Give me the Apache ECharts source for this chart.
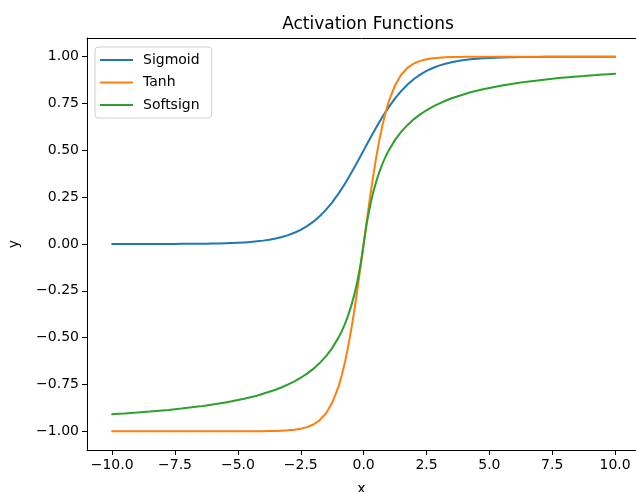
<!DOCTYPE html>
<html>
<head>
<meta charset="utf-8">
<script src="https://cdn.jsdelivr.net/npm/echarts@6/dist/echarts.min.js"></script>
<style>html,body{margin:0;padding:0;background:#fff;}#c{width:636px;height:492px;}</style>
</head>
<body>
<div id="c"></div>
<script>
const xValues = [-10,-9.75,-9.5,-9.25,-9,-8.75,-8.5,-8.25,-8,-7.75,-7.5,-7.25,-7,-6.75,-6.5,-6.25,-6,-5.75,-5.5,-5.25,-5,-4.75,-4.5,-4.25,-4,-3.75,-3.5,-3.25,-3,-2.75,-2.5,-2.25,-2,-1.75,-1.5,-1.25,
  -1,-0.875,-0.75,-0.625,-0.5,-0.375,-0.25,-0.125,0,0.125,0.25,0.375,0.5,0.625,0.75,0.875,1,
  1.25,1.5,1.75,2,2.25,2.5,2.75,3,3.25,3.5,3.75,4,4.25,4.5,4.75,5,5.25,5.5,5.75,6,6.25,6.5,6.75,7,7.25,7.5,7.75,8,8.25,8.5,8.75,9,9.25,9.5,9.75,10];
const sigmoid = [0.0000,0.0001,0.0001,0.0001,0.0001,0.0002,0.0002,0.0003,0.0003,0.0004,0.0006,0.0007,0.0009,0.0012,0.0015,0.0019,0.0025,0.0032,0.0041,0.0052,0.0067,0.0086,0.0110,0.0141,0.0180,0.0230,0.0293,0.0373,0.0474,0.0601,0.0759,0.0953,0.1192,0.1480,0.1824,0.2227,
  0.2689,0.2942,0.3208,0.3487,0.3775,0.4073,0.4378,0.4688,0.5000,0.5312,0.5622,0.5927,0.6225,0.6513,0.6792,0.7058,0.7311,
  0.7773,0.8176,0.8520,0.8808,0.9047,0.9241,0.9399,0.9526,0.9627,0.9707,0.9770,0.9820,0.9859,0.9890,0.9914,0.9933,0.9948,0.9959,0.9968,0.9975,0.9981,0.9985,0.9988,0.9991,0.9993,0.9994,0.9996,0.9997,0.9997,0.9998,0.9998,0.9999,0.9999,0.9999,0.9999,1.0000];
const tanh = [-1.0000,-1.0000,-1.0000,-1.0000,-1.0000,-1.0000,-1.0000,-1.0000,-1.0000,-1.0000,-1.0000,-1.0000,-1.0000,-1.0000,-1.0000,-1.0000,-1.0000,-1.0000,-1.0000,-0.9999,-0.9999,-0.9999,-0.9998,-0.9996,-0.9993,-0.9989,-0.9982,-0.9970,-0.9951,-0.9919,-0.9866,-0.9780,-0.9640,-0.9414,-0.9051,-0.8483,
  -0.7616,-0.7039,-0.6351,-0.5546,-0.4621,-0.3584,-0.2449,-0.1244,0.0000,0.1244,0.2449,0.3584,0.4621,0.5546,0.6351,0.7039,0.7616,
  0.8483,0.9051,0.9414,0.9640,0.9780,0.9866,0.9919,0.9951,0.9970,0.9982,0.9989,0.9993,0.9996,0.9998,0.9999,0.9999,0.9999,1.0000,1.0000,1.0000,1.0000,1.0000,1.0000,1.0000,1.0000,1.0000,1.0000,1.0000,1.0000,1.0000,1.0000,1.0000,1.0000,1.0000,1.0000,1.0000];
const softsign = [-0.909,-0.907,-0.905,-0.902,-0.900,-0.897,-0.895,-0.892,-0.889,-0.886,-0.882,-0.879,-0.875,-0.871,-0.867,-0.862,-0.857,-0.852,-0.846,-0.840,-0.833,-0.826,-0.818,-0.810,-0.800,-0.789,-0.778,-0.765,-0.750,-0.733,-0.714,-0.692,-0.667,-0.636,-0.600,-0.556,
  -0.500,-0.467,-0.429,-0.385,-0.333,-0.273,-0.200,-0.111,0.000,0.111,0.200,0.273,0.333,0.385,0.429,0.467,0.500,
  0.556,0.600,0.636,0.667,0.692,0.714,0.733,0.750,0.765,0.778,0.789,0.800,0.810,0.818,0.826,0.833,0.840,0.846,0.852,0.857,0.862,0.867,0.871,0.875,0.879,0.882,0.886,0.889,0.892,0.895,0.897,0.900,0.902,0.905,0.907,0.909];
const seriesNames = ['Sigmoid','Tanh','Softsign'];
const xTicks = [-10,-7.5,-5,-2.5,0,2.5,5,7.5,10];
const yTicks = [-1,-0.75,-0.5,-0.25,0,0.25,0.5,0.75,1];

const colors = ['#1f77b4','#ff7f0e','#2ca02c'];
const font = 'DejaVu Sans';
const fmt = (v, d) => { const s = Math.abs(v).toFixed(d); return v < 0 ? '\u2212' + s : s; };
const pairs = arr => xValues.map((x, i) => [x, arr[i]]);
const allData = [sigmoid, tanh, softsign];

const chart = echarts.init(document.getElementById('c'), null, {renderer: 'canvas'});
chart.setOption({
  animation: false,
  backgroundColor: '#fff',
  color: colors,
  title: {
    text: 'Activation Functions', left: 363, top: 11, textAlign: 'center',
    textStyle: {fontFamily: font, fontSize: 17, fontWeight: 'normal', color: '#000'}
  },
  grid: {left: 87, top: 38, right: 0, bottom: 42, show: false, outerBoundsMode: 'none', containLabel: false},
  legend: {
    orient: 'vertical', left: 95, top: 47,
    data: seriesNames,
    itemWidth: 33, itemHeight: 14, itemGap: 8.5,
    padding: [6, 12, 6, 5],
    borderColor: '#d0d0d0', borderWidth: 1, borderRadius: 3,
    backgroundColor: 'rgba(255,255,255,0.8)',
    icon: 'path://M0,6 L33,6 L33,8 L0,8 Z',
    textStyle: {fontFamily: font, fontSize: 14, color: '#000', padding: [0, 0, 0, 5]}
  },
  xAxis: [{
    type: 'value', min: -11, max: 10.83,
    name: 'x', nameLocation: 'middle', nameGap: 32,
    nameTextStyle: {fontFamily: font, fontSize: 14, color: '#000'},
    axisLine: {show: true, onZero: false, lineStyle: {color: '#000', width: 1}},
    axisTick: {show: true, length: 5, customValues: xTicks, lineStyle: {color: '#000'}},
    axisLabel: {customValues: xTicks, formatter: v => fmt(v, 1), fontFamily: font, fontSize: 14, color: '#000', margin: 8},
    splitLine: {show: false}
  }, {
    type: 'value', position: 'top', min: -11, max: 10.83,
    axisLine: {show: true, onZero: false, lineStyle: {color: '#000', width: 1}},
    axisTick: {show: false}, axisLabel: {show: false}, splitLine: {show: false}
  }],
  yAxis: {
    type: 'value', min: -1.1, max: 1.1,
    name: 'y', nameLocation: 'middle', nameGap: 66,
    nameTextStyle: {fontFamily: font, fontSize: 14, color: '#000'},
    axisLine: {show: true, onZero: false, lineStyle: {color: '#000', width: 1}},
    axisTick: {show: true, length: 5, customValues: yTicks, lineStyle: {color: '#000'}},
    axisLabel: {customValues: yTicks, formatter: v => fmt(v, 2), fontFamily: font, fontSize: 14, color: '#000', margin: 8},
    splitLine: {show: false}
  },
  series: seriesNames.map((n, i) => ({
    name: n, type: 'line', data: pairs(allData[i]), xAxisIndex: 0,
    showSymbol: false, symbol: 'none', smooth: false,
    lineStyle: {width: 2, color: colors[i], cap: 'round', join: 'round'}
  }))
});
</script>
</body>
</html>
